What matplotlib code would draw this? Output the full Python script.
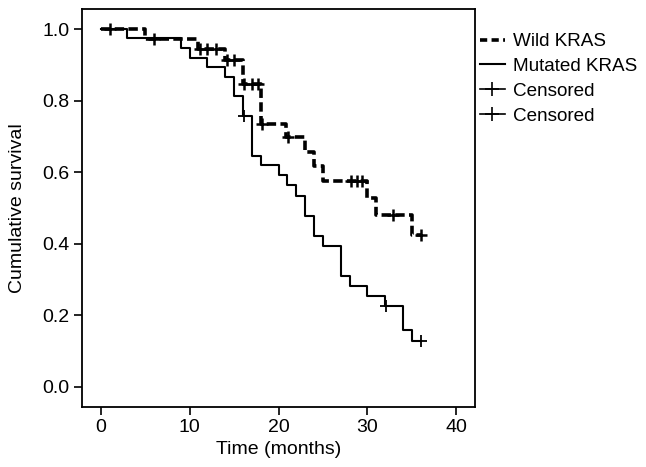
import numpy as np
import matplotlib
matplotlib.use('Agg')
import matplotlib.pyplot as plt
from matplotlib.lines import Line2D

plt.rcParams['font.family'] = ['Liberation Sans', 'DejaVu Sans']

# Kaplan-Meier steps (time of drop, survival after drop)
wild_t = [0, 5, 11, 14, 16, 18, 20.8, 23, 24, 25, 30, 31, 35]
wild_s = [1.0, 0.972, 0.944, 0.913, 0.846, 0.735, 0.698, 0.657, 0.616, 0.574, 0.527, 0.48, 0.424]
wild_end = 36
wild_cens = [1, 6, 11.2, 12, 13, 14.2, 15, 16.1, 17, 17.7, 18.1, 21.1, 28.1, 28.8, 29.4, 32.9, 36]

mut_t = [0, 3, 9, 10, 12, 14, 15, 16, 17, 18, 20, 21, 22, 23, 24, 25, 27, 28, 30, 32, 34, 35]
mut_s = [1.0, 0.974, 0.946, 0.919, 0.893, 0.866, 0.812, 0.757, 0.646, 0.619, 0.592, 0.564,
         0.533, 0.477, 0.42, 0.393, 0.309, 0.281, 0.253, 0.225, 0.158, 0.127]
mut_end = 36
mut_cens = [16.1, 32.1, 36]

xticks = [0, 10, 20, 30, 40]
yticks = [0.0, 0.2, 0.4, 0.6, 0.8, 1.0]


def surv_at(times, surv, t):
    idx = np.searchsorted(times, t, side='right') - 1
    return np.asarray(surv)[idx]


fig = plt.figure(figsize=(6.46, 4.67), dpi=100)
ax = fig.add_axes([82 / 646, 60 / 467, 393 / 646, 398 / 467])

# wild KRAS (dashed)
ax.step(wild_t + [wild_end], wild_s + [wild_s[-1]], where='post', color='black',
        linewidth=2.6, linestyle=(0, (2.6, 1.2)))
ax.plot(wild_cens, surv_at(wild_t, wild_s, wild_cens), linestyle='none', marker='+',
        color='black', markersize=8, markeredgewidth=1.8)

# mutated KRAS (solid)
ax.step(mut_t + [mut_end], mut_s + [mut_s[-1]], where='post', color='black', linewidth=1.5)
ax.plot(mut_cens, surv_at(mut_t, mut_s, mut_cens), linestyle='none', marker='+',
        color='black', markersize=8, markeredgewidth=1.3)

ax.set_xlim(-2.1, 42.1)
ax.set_ylim(-0.057, 1.056)
ax.set_xticks(xticks)
ax.set_yticks(yticks)
ax.set_yticklabels([f'{v:.1f}' for v in yticks])
ax.tick_params(direction='out', length=6, width=1.2, labelsize=14, top=False, right=False, pad=3)
for sp in ax.spines.values():
    sp.set_linewidth(1.3)
ax.set_xlabel('Time (months)', fontsize=14, labelpad=3)
ax.set_ylabel('Cumulative survival', fontsize=14, labelpad=12)

handles = [
    Line2D([], [], color='black', linewidth=2.6, linestyle=(0, (2.0, 1.2))),
    Line2D([], [], color='black', linewidth=1.5),
    Line2D([], [], color='black', linewidth=1.2, marker='+', markersize=10, markeredgewidth=1.2),
    Line2D([], [], color='black', linewidth=1.2, marker='+', markersize=10, markeredgewidth=1.2),
]
labels = ['Wild KRAS', 'Mutated KRAS', 'Censored', 'Censored']
fig.legend(handles, labels, loc='upper left', bbox_to_anchor=(480 / 646, 1 - 33 / 467),
           frameon=False, fontsize=13.6, handlelength=1.3, handletextpad=0.45,
           labelspacing=0.4, borderaxespad=0, borderpad=0)

fig.savefig('out.png', dpi=100, facecolor='white')
